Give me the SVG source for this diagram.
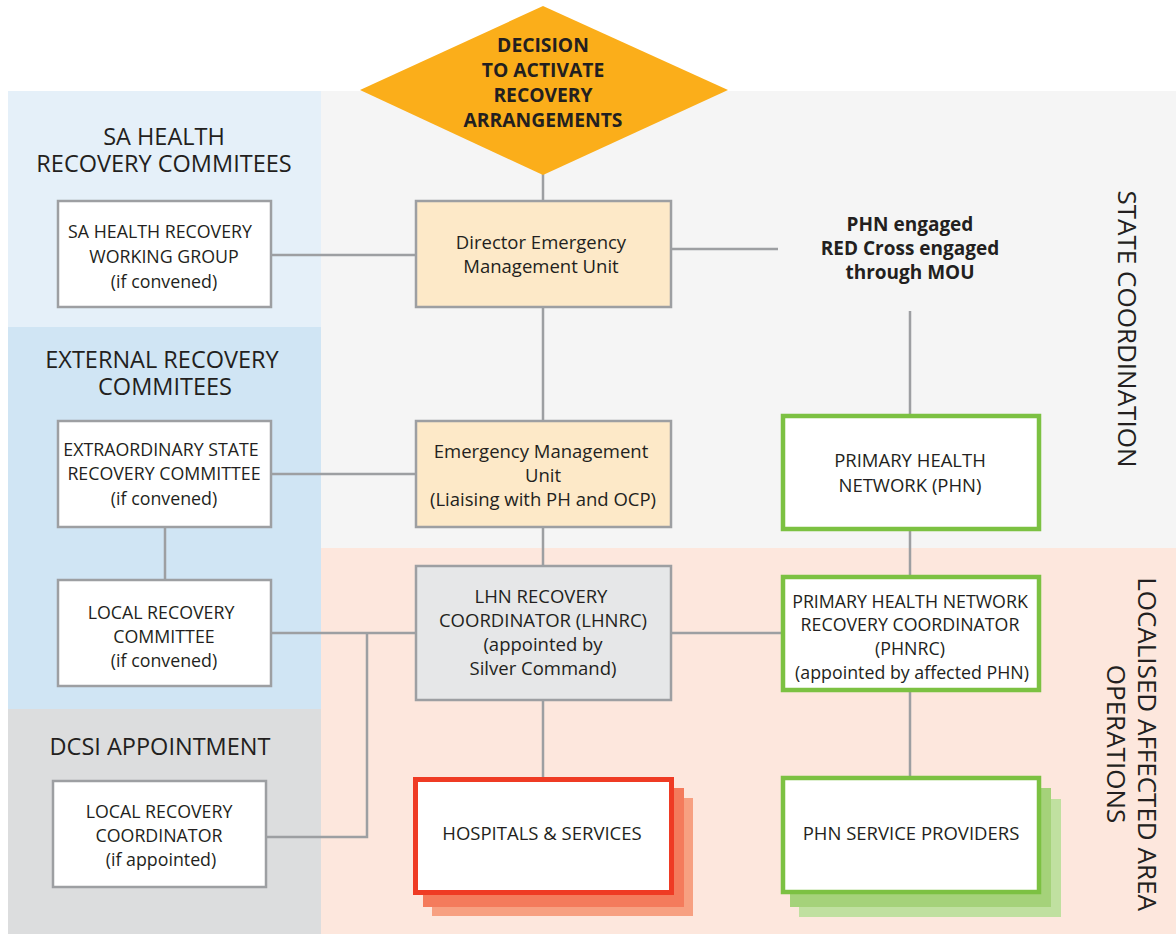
<svg xmlns="http://www.w3.org/2000/svg" width="1176" height="934" viewBox="0 0 1176 934">
<style>
text{font-family:"Open Sans","Noto Sans",sans-serif;fill:#231f20;text-anchor:middle}
.h{font-size:23.5px}
.b{font-size:18.5px}
.s{font-size:17.8px}
.bold{font-weight:bold;font-size:19px}
.d{font-weight:bold;font-size:19.3px}
.v{font-size:26px}
.box{fill:#fff;stroke:#9d9fa2;stroke-width:2.5}
.peach{fill:#fde9c8;stroke:#9d9fa2;stroke-width:2.5}
.grey{fill:#e6e7e8;stroke:#9d9fa2;stroke-width:2.5}
.green{fill:#fff;stroke:#7cc142;stroke-width:4.5}
.red{fill:#fff;stroke:#ef3b24;stroke-width:5}
.ln{fill:none;stroke:#9d9fa2;stroke-width:2.5}
</style>
<rect width="1176" height="934" fill="#fff"/>
<g id="bands">
<rect x="8" y="91" width="313" height="236" fill="#e5f0f9"/>
<rect x="8" y="327" width="313" height="382" fill="#d0e5f4"/>
<rect x="8" y="709" width="313" height="225" fill="#dcddde"/>
<rect x="321" y="91" width="855" height="457" fill="#f5f5f5"/>
<rect x="321" y="548" width="855" height="386" fill="#fde7dd"/>
</g>
<g id="band-labels">
<text class="h" x="164" y="145">SA HEALTH</text>
<text class="h" x="164" y="172">RECOVERY COMMITEES</text>
<text class="h" x="162" y="368">EXTERNAL RECOVERY</text>
<text class="h" x="165" y="395">COMMITEES</text>
<text class="h" x="160" y="755">DCSI APPOINTMENT</text>
<text class="v" transform="translate(1118,329) rotate(90)">STATE COORDINATION</text>
<text class="v" transform="translate(1138,744) rotate(90)"><tspan x="0" y="0">LOCALISED AFFECTED AREA</tspan><tspan x="0" y="31">OPERATIONS</tspan></text>
</g>
<g id="connectors">
<line class="ln" x1="543" y1="172" x2="543" y2="201"/>
<line class="ln" x1="543" y1="307" x2="543" y2="421"/>
<line class="ln" x1="271" y1="255" x2="416" y2="255"/>
<line class="ln" x1="671" y1="249" x2="778" y2="249"/>
<line class="ln" x1="910" y1="311" x2="910" y2="415"/>
<line class="ln" x1="271" y1="474" x2="416" y2="474"/>
<line class="ln" x1="165" y1="527" x2="165" y2="580"/>
<line class="ln" x1="543" y1="527" x2="543" y2="566"/>
<line class="ln" x1="910" y1="529" x2="910" y2="576"/>
<line class="ln" x1="271" y1="633" x2="416" y2="633"/>
<line class="ln" x1="671" y1="633" x2="782" y2="633"/>
<polyline class="ln" points="367,633 367,837 266,837"/>
<line class="ln" x1="543" y1="700" x2="543" y2="779"/>
<line class="ln" x1="910" y1="691" x2="910" y2="777"/>
</g>
<g id="decision">
<polygon points="543,6 728,90 543,175 360,90" fill="#fbae1a"/>
<text class="d" x="543" y="52">DECISION</text>
<text class="d" x="543" y="77">TO ACTIVATE</text>
<text class="d" x="543" y="102">RECOVERY</text>
<text class="d" x="543" y="127">ARRANGEMENTS</text>
</g>
<g id="sa-health-wg">
<rect class="box" x="58" y="201" width="213" height="106"/>
<text class="s" x="160" y="238">SA HEALTH RECOVERY</text>
<text class="s" x="164" y="263">WORKING GROUP</text>
<text class="s" x="164" y="288">(if convened)</text>
</g>
<g id="director-emu">
<rect class="peach" x="416" y="201" width="255" height="106"/>
<text class="b" x="541" y="249">Director Emergency</text>
<text class="b" x="541" y="273">Management Unit</text>
</g>
<g id="phn-engaged">
<text class="bold" x="910" y="231">PHN engaged</text>
<text class="bold" x="910" y="255">RED Cross engaged</text>
<text class="bold" x="910" y="279">through MOU</text>
</g>
<g id="extraordinary">
<rect class="box" x="58" y="421" width="213" height="106"/>
<text class="s" x="161" y="456">EXTRAORDINARY STATE</text>
<text class="s" x="164" y="480">RECOVERY COMMITTEE</text>
<text class="s" x="164" y="505">(if convened)</text>
</g>
<g id="emu">
<rect class="peach" x="416" y="421" width="255" height="106"/>
<text class="b" x="541" y="458">Emergency Management</text>
<text class="b" x="543" y="482">Unit</text>
<text class="b" x="543" y="506">(Liaising with PH and OCP)</text>
</g>
<g id="phn">
<rect class="green" x="783" y="416" width="256" height="113"/>
<text class="b" x="910" y="467">PRIMARY HEALTH</text>
<text class="b" x="910" y="492">NETWORK (PHN)</text>
</g>
<g id="local-committee">
<rect class="box" x="58" y="580" width="213" height="106"/>
<text class="s" x="161" y="619">LOCAL RECOVERY</text>
<text class="s" x="164" y="643">COMMITTEE</text>
<text class="s" x="164" y="667">(if convened)</text>
</g>
<g id="lhnrc">
<rect class="grey" x="416" y="566" width="255" height="134"/>
<text class="b" x="541" y="603">LHN RECOVERY</text>
<text class="b" x="543" y="627">COORDINATOR (LHNRC)</text>
<text class="b" x="543" y="651">(appointed by</text>
<text class="b" x="543" y="675">Silver Command)</text>
</g>
<g id="phnrc">
<rect class="green" x="783" y="577" width="256" height="113"/>
<text class="s" x="910" y="608">PRIMARY HEALTH NETWORK</text>
<text class="s" x="910" y="631">RECOVERY COORDINATOR</text>
<text class="s" x="910" y="655">(PHNRC)</text>
<text class="s" x="912" y="679">(appointed by affected PHN)</text>
</g>
<g id="local-coordinator">
<rect class="box" x="53" y="781" width="213" height="106"/>
<text class="s" x="159" y="818">LOCAL RECOVERY</text>
<text class="s" x="159" y="842">COORDINATOR</text>
<text class="s" x="161" y="866">(if appointed)</text>
</g>
<g id="hospitals">
<rect x="432" y="798" width="261" height="118" fill="#f7a081"/>
<rect x="423" y="788" width="261" height="119" fill="#f47b5c"/>
<rect class="red" x="415.5" y="779.5" width="256" height="113"/>
<text class="b" x="542" y="840">HOSPITALS &amp; SERVICES</text>
</g>
<g id="phn-providers">
<rect x="799" y="799" width="262" height="118" fill="#c0e0a0"/>
<rect x="790" y="788" width="261" height="119" fill="#a5d27a"/>
<rect class="green" x="783" y="778" width="256" height="114"/>
<text class="b" x="911" y="840">PHN SERVICE PROVIDERS</text>
</g>
</svg>
